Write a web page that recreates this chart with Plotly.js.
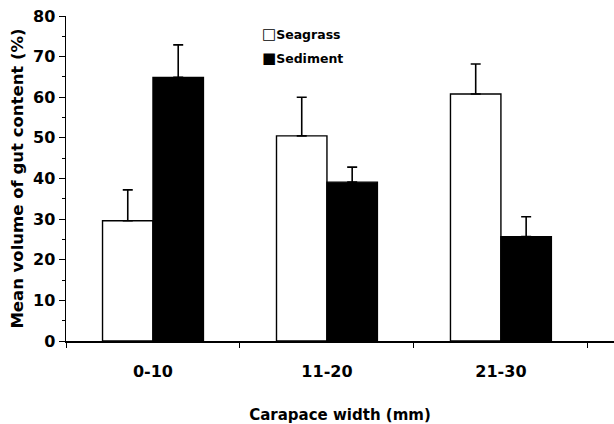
<!DOCTYPE html>
<html><head><meta charset="utf-8">
<script src="https://cdn.plot.ly/plotly-3.0.1.min.js"></script>
<style>body{margin:0;background:#fff}#c{width:614px;height:424px}</style>
</head><body><div id="c"></div>
<script>
const categories = ["0-10", "11-20", "21-30"];
const seagrass = [29.6, 50.5, 60.8];
const seagrassErr = [7.6, 9.5, 7.4];
const sediment = [64.9, 39.1, 25.7];
const sedimentErr = [8.0, 3.7, 4.9];
const yTicks = [0, 10, 20, 30, 40, 50, 60, 70, 80];
const seriesNames = ["Seagrass", "Sediment"];

const fontFam = '"DejaVu Sans", "Liberation Sans", Arial, sans-serif';
const traces = [
  {type: 'bar', name: seriesNames[0], x: categories, y: seagrass, showlegend: false,
   marker: {color: '#ffffff', line: {color: '#000', width: 1.4}},
   error_y: {type: 'data', array: seagrassErr, symmetric: false, arrayminus: [0,0,0], color: '#000', thickness: 1.6, width: 5}},
  {type: 'bar', name: seriesNames[1], x: categories, y: sediment, showlegend: false,
   marker: {color: '#000000', line: {color: '#000', width: 1.4}},
   error_y: {type: 'data', array: sedimentErr, symmetric: false, arrayminus: [0,0,0], color: '#000', thickness: 1.6, width: 5}}
];
const layout = {
  width: 614, height: 424,
  margin: {l: 66, r: 0, t: 16, b: 83},
  paper_bgcolor: '#fff', plot_bgcolor: '#fff',
  barmode: 'group', bargap: 0.42, bargroupgap: 0,
  font: {family: fontFam, color: '#000'},
  showlegend: false,
  annotations: [
    {xref: 'paper', yref: 'paper', x: 0.354, y: 0.946, xanchor: 'left', yanchor: 'middle', showarrow: false,
     text: '<span style="font-size:15px">\u25A1</span>' + seriesNames[0], font: {size: 12.5, weight: 'bold', family: fontFam}},
    {xref: 'paper', yref: 'paper', x: 0.354, y: 0.872, xanchor: 'left', yanchor: 'middle', showarrow: false,
     text: '<span style="font-size:15px">\u25A0</span>' + seriesNames[1], font: {size: 12.5, weight: 'bold', family: fontFam}}
  ],
  xaxis: {type: 'category', range: [-0.5, 2.65], tickson: 'boundaries', ticks: 'outside', ticklen: 5,
          tickcolor: '#000', showline: true, linecolor: '#000', linewidth: 1.5, showgrid: false,
          tickfont: {size: 16, weight: 'bold'}, ticklabelstandoff: 15,
          title: {text: 'Carapace width (mm)', font: {size: 15, weight: 'bold'}, standoff: 30}},
  yaxis: {range: [0, 80], tickvals: yTicks, ticktext: yTicks.map(String), ticks: 'outside', ticklen: 6,
          tickcolor: '#000', showline: true, linecolor: '#000', linewidth: 1.5, showgrid: false, zeroline: false,
          minor: {dtick: 5, ticks: 'outside', ticklen: 3, tickcolor: '#000'},
          tickfont: {size: 16, weight: 'bold'},
          title: {text: 'Mean volume of gut content (%)', font: {size: 16.5, weight: 'bold'}, standoff: 5}}
};
Plotly.newPlot('c', traces, layout, {displayModeBar: false, staticPlot: true});
</script></body></html>
